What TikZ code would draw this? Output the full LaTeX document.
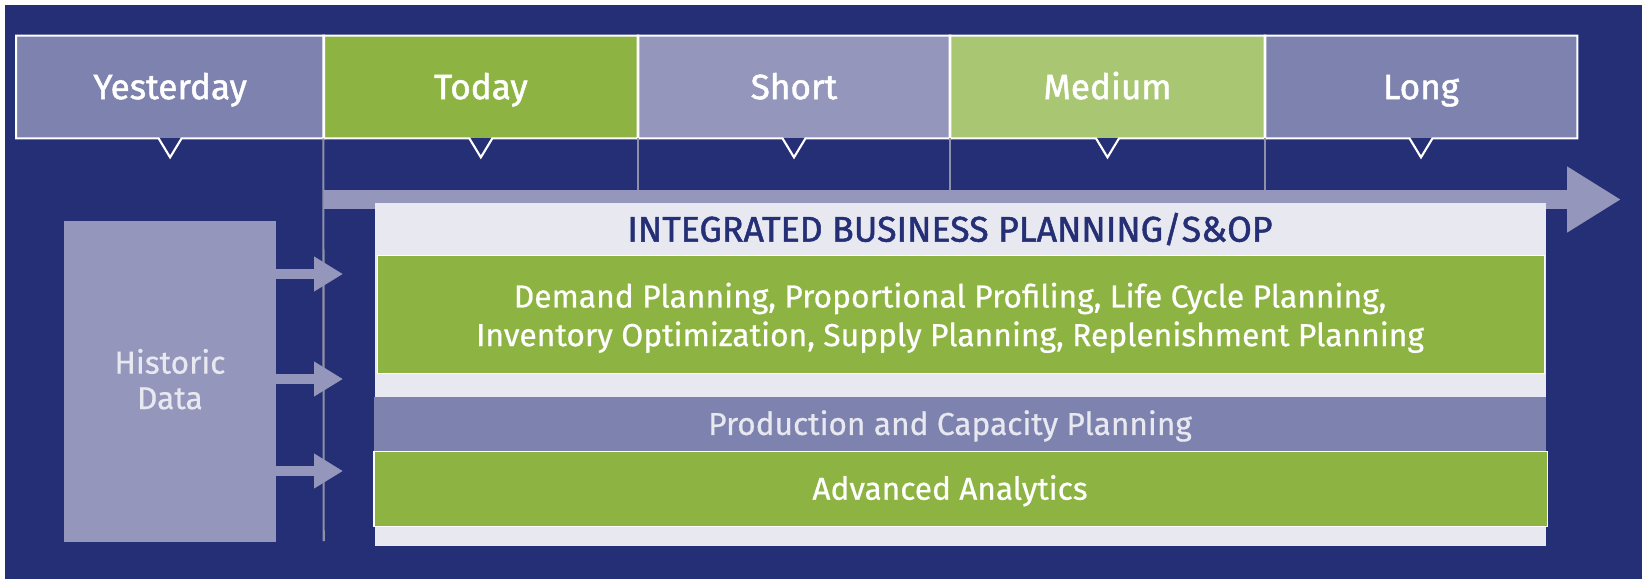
\documentclass[tikz,border=0pt]{standalone}
\usepackage{fontspec}
\setmainfont{Fira Sans}
\newfontfamily\headfont{Fira Sans}[FakeBold=1.4]
\newfontfamily\bodyfont{Fira Sans}[FakeBold=0.6]
\usetikzlibrary{arrows.meta}
\definecolor{navy}{RGB}{37,47,117}
\definecolor{slate}{RGB}{126,130,174}
\definecolor{lilac}{RGB}{148,151,187}
\definecolor{leaf}{RGB}{141,180,67}
\definecolor{lime}{RGB}{169,198,114}
\definecolor{mist}{RGB}{232,232,241}
\definecolor{rulegray}{RGB}{143,144,166}
\tikzset{
  font={\bodyfont\fontsize{18pt}{22pt}\selectfont},
  period/.style={minimum width=#1, minimum height=2.04cm, inner sep=0pt, text=white, text height=13.8pt, text depth=0pt, font={\headfont\fontsize{20pt}{24pt}\selectfont}},
  outline/.style={draw=white, line width=1.2pt, line join=miter},
  tick/.style={draw=rulegray, line width=1.2pt},
  feed/.style={draw=lilac, line width=6.2pt, -{Triangle[length=16.5pt,width=18.8pt]}},
  timeline/.style={draw=lilac, line width=10.8pt, -{Triangle[length=30.6pt,width=35.3pt]}},
  layer/.style={minimum width=#1, inner sep=0pt},
  caption/.style={inner sep=0pt, text=white, align=center, text depth=0pt}}

\begin{document}
\begin{tikzpicture}[scale=0.2]
\useasboundingbox (0,0) rectangle (164.2,-57.9);
\fill [navy] (0.5,-0.5) rectangle (164.2,-57.9);
\node [period=6.144cm, fill=slate] (yday) at (17.01,-8.7) {Yesterday};
\node [period=6.286cm, fill=leaf] (today) at (48.085,-8.7) {Today};
\node [period=6.24cm, fill=lilac] (short) at (79.4,-8.7) {Short};
\node [period=6.3cm, fill=lime] (medium) at (110.75,-8.7) {Medium};
\node [period=6.24cm, fill=slate] (long) at (142.1,-8.7) {Long};
\foreach \n in {yday,today,short,medium,long}
  \draw [outline] (\n.north west) -- (\n.north east) -- (\n.south east) -- ([xshift=1.15cm]\n.south) -- ([yshift=-1.9cm]\n.south) -- ([xshift=-1.15cm]\n.south) -- (\n.south west) -- cycle;
\coordinate (tstart) at (32.37,-19.95);
\coordinate (tend) at (162.1,-19.95);
\draw [tick] (today.south west) -- (32.37,-54.1);
\foreach \n in {short,medium,long}
  \draw [tick] (\n.south west) -- (\n.south west |- tstart);
\draw [timeline] (tstart) -- (tend);
\node [fill=lilac, minimum width=4.244cm, minimum height=6.414cm, inner sep=0pt] (historic) at (16.99,-38.14) {};
\node [caption, text=mist, font={\bodyfont\fontsize{18pt}{20.2pt}\selectfont}] (historictext) at (16.99,-37.9) {Historic\\Data};
\coordinate (h1) at (34.3,-27.4);
\coordinate (h2) at (34.3,-37.9);
\coordinate (h3) at (34.3,-47.1);
\foreach \h in {h1,h2,h3}
  \draw [feed] (historic.east |- \h) -- (\h);
\node [fill=mist, minimum width=23.42cm, minimum height=6.86cm, inner sep=0pt] (ibp) at (96.05,-37.45) {};
\node [text=navy, text height=14pt, text depth=0pt, font={\headfont\fontsize{20.3pt}{24pt}\selectfont}] (ibptitle) at (95.0,-22.93) {INTEGRATED BUSINESS PLANNING/S\&OP};
\node [layer=23.34cm, fill=leaf, draw=white, line width=0.6pt, minimum height=2.374cm] (demand) at (96.11,-31.44) {};
\node [caption, font={\bodyfont\fontsize{18.1pt}{22pt}\selectfont}] (demandtext) at (95.0,-31.44) {Demand Planning, Proportional Profiling, Life Cycle Planning,\\Inventory Optimization, Supply Planning, Replenishment Planning};
\node [layer=23.44cm, fill=slate, minimum height=1.08cm] (capacity) at (96.0,-42.4) {};
\node [caption, text=mist, text height=12.4pt] (capacitytext) at (95.0,-42.4) {Production and Capacity Planning};
\node [layer=23.46cm, fill=leaf, draw=white, line width=0.6pt, minimum height=1.51cm] (analytics) at (96.05,-48.88) {};
\node [caption, text height=12.4pt] (analyticstext) at (95.0,-48.88) {Advanced Analytics};
\end{tikzpicture}
\end{document}
